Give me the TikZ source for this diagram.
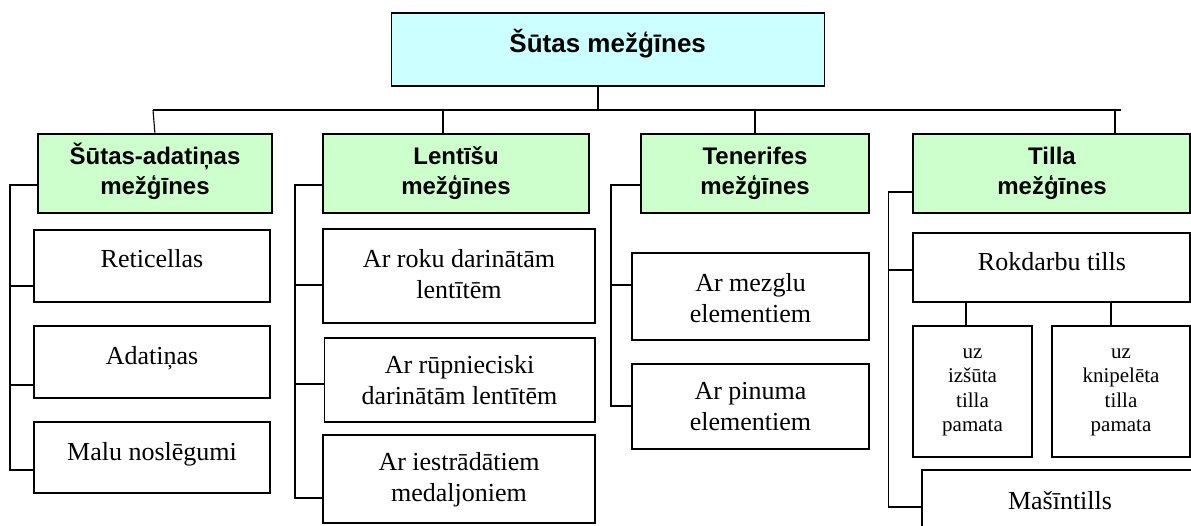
\documentclass[tikz,border=0pt]{standalone}
\usepackage{fontspec}
\setmainfont{Liberation Serif}
\newfontfamily\arialfont{Liberation Sans}
\definecolor{cyanfill}{HTML}{CCFFFF}
\definecolor{greenfill}{HTML}{CCFFCC}
\begin{document}
\begin{tikzpicture}[x=1pt,y=-1pt,
  box/.style={draw, line width=1.6pt, inner sep=0pt, outer sep=0pt, anchor=north west},
  topbox/.style={box, fill=cyanfill},
  grbox/.style={box, fill=greenfill},
  wbox/.style={box, fill=white},
  conn/.style={line width=1.1pt},
  ttl/.style={font=\arialfont\bfseries\fontsize{26}{31}\selectfont, anchor=base, inner sep=0pt},
  gtxt/.style={font=\arialfont\bfseries\fontsize{24}{30}\selectfont, align=center, anchor=base, inner sep=0pt},
  stxt/.style={font=\fontsize{26}{31}\selectfont, align=center, anchor=base, inner sep=0pt},
  smtxt/.style={font=\fontsize{21}{24.5}\selectfont, align=center, anchor=base, inner sep=0pt}]
\useasboundingbox (0,0) rectangle (1191,526);
\clip (0,0) rectangle (1191,526);
\fill[white] (0,0) rectangle (1191,526);

% top
\node[topbox, minimum width=433pt, minimum height=73pt] (top) at (391.5,13) {};
\node[ttl] (toptxt) at (607.7,53) {Šūtas mežģīnes};

% level 1 (text anchored at the baseline of its last line)
\node[grbox, minimum width=234pt, minimum height=79pt] (g1) at (38,134) {};
\node[grbox, minimum width=266pt, minimum height=79pt] (g2) at (323,134) {};
\node[grbox, minimum width=228pt, minimum height=79pt] (g3) at (641,134) {};
\node[grbox, minimum width=277pt, minimum height=79pt] (g4) at (913,134) {};
\node[gtxt] (g1t) at (155,195) {Šūtas-adatiņas\\mežģīnes};
\node[gtxt] (g2t) at (456,195) {Lentīšu\\mežģīnes};
\node[gtxt] (g3t) at (755,195) {Tenerifes\\mežģīnes};
\node[gtxt] (g4t) at (1052,195) {Tilla\\mežģīnes};

% top connectors
\coordinate (hub) at (598,110);
\coordinate (hl) at (153,110);
\coordinate (hr) at (1121,110);
\coordinate (x2) at (443,0);
\coordinate (x4) at (1115,0);
\draw[conn] (top.south -| hub) -- (hub);
\draw[conn] (hl) -- (hr);
\draw[conn] (hl) -- (g1.north);
\draw[conn] (hub -| x2) -- (g2.north -| x2);
\draw[conn] (hub -| g3.north) -- (g3.north);
\draw[conn] (hub -| x4) -- (g4.north -| x4);

% group 1
\node[wbox, minimum width=236pt, minimum height=72pt] (ret) at (34,230) {};
\node[wbox, minimum width=236pt, minimum height=72pt] (ada) at (34,326) {};
\node[wbox, minimum width=236pt, minimum height=71pt] (malu) at (34,422) {};
\node[stxt] (rett) at (152,268) {Reticellas};
\node[stxt] (adat) at (152,364) {Adatiņas};
\node[stxt] (malut) at (152,460) {Malu noslēgumi};
\coordinate (b1a) at (10,185);
\coordinate (b1r) at (10,286);
\coordinate (b1d) at (10,385);
\coordinate (b1z) at (10,470);
\draw[conn] (b1a -| g1.west) -- (b1a) -- (b1z) -- (b1z -| malu.west);
\draw[conn] (b1r) -- (b1r -| ret.west);
\draw[conn] (b1d) -- (b1d -| ada.west);

% group 2
\node[wbox, minimum width=272pt, minimum height=94pt] (la) at (323,229) {};
\node[wbox, minimum width=270.5pt, minimum height=84pt] (lb) at (324.5,338) {};
\node[wbox, minimum width=272pt, minimum height=88pt] (lc) at (323,435) {};
\node[stxt] (lat) at (459,299) {Ar roku darinātām\\lentītēm};
\node[stxt] (lbt) at (459.5,404) {Ar rūpnieciski\\darinātām lentītēm};
\node[stxt] (lct) at (459,501) {Ar iestrādātiem\\medaljoniem};
\coordinate (b2a) at (295,185);
\coordinate (b2r) at (295,285);
\coordinate (b2d) at (295,384);
\coordinate (b2z) at (295,498);
\draw[conn] (b2a -| g2.west) -- (b2a) -- (b2z) -- (b2z -| lc.west);
\draw[conn] (b2r) -- (b2r -| la.west);
\draw[conn] (b2d) -- (b2d -| lb.west);

% group 3
\node[wbox, minimum width=237pt, minimum height=87pt] (ta) at (632,253) {};
\node[wbox, minimum width=237pt, minimum height=85pt] (tb) at (632,364) {};
\node[stxt] (tat) at (750.5,323) {Ar mezglu\\elementiem};
\node[stxt] (tbt) at (750.5,430) {Ar pinuma\\elementiem};
\coordinate (b3a) at (611,185);
\coordinate (b3r) at (611,285);
\coordinate (b3z) at (611,406);
\draw[conn] (b3a -| g3.west) -- (b3a) -- (b3z) -- (b3z -| tb.west);
\draw[conn] (b3r) -- (b3r -| ta.west);

% group 4
\node[wbox, minimum width=277pt, minimum height=69pt] (rok) at (913,233) {};
\node[wbox, minimum width=119pt, minimum height=131pt] (s1) at (913,326) {};
\node[wbox, minimum width=138pt, minimum height=131pt] (s2) at (1052,326) {};
\node[wbox, minimum width=300pt, minimum height=100pt] (mas) at (922,470) {};
\node[stxt] (rokt) at (1052,271) {Rokdarbu tills};
\node[smtxt] (s1t) at (972.5,431.5) {uz\\izšūta\\tilla\\pamata};
\node[smtxt] (s2t) at (1121,431.5) {uz\\knipelēta\\tilla\\pamata};
\node[stxt] (mast) at (1060,509) {Mašīntills};
\coordinate (d1) at (966,0);
\coordinate (d2) at (1111,0);
\draw[conn] (rok.south -| d1) -- (s1.north -| d1);
\draw[conn] (rok.south -| d2) -- (s2.north -| d2);
\coordinate (b4a) at (888.5,192);
\coordinate (b4r) at (888.5,270);
\coordinate (b4z) at (888.5,507);
\draw[conn] (b4a -| g4.west) -- (b4a) -- (b4z) -- (b4z -| mas.west);
\draw[conn] (b4r) -- (b4r -| rok.west);
\end{tikzpicture}
\end{document}
